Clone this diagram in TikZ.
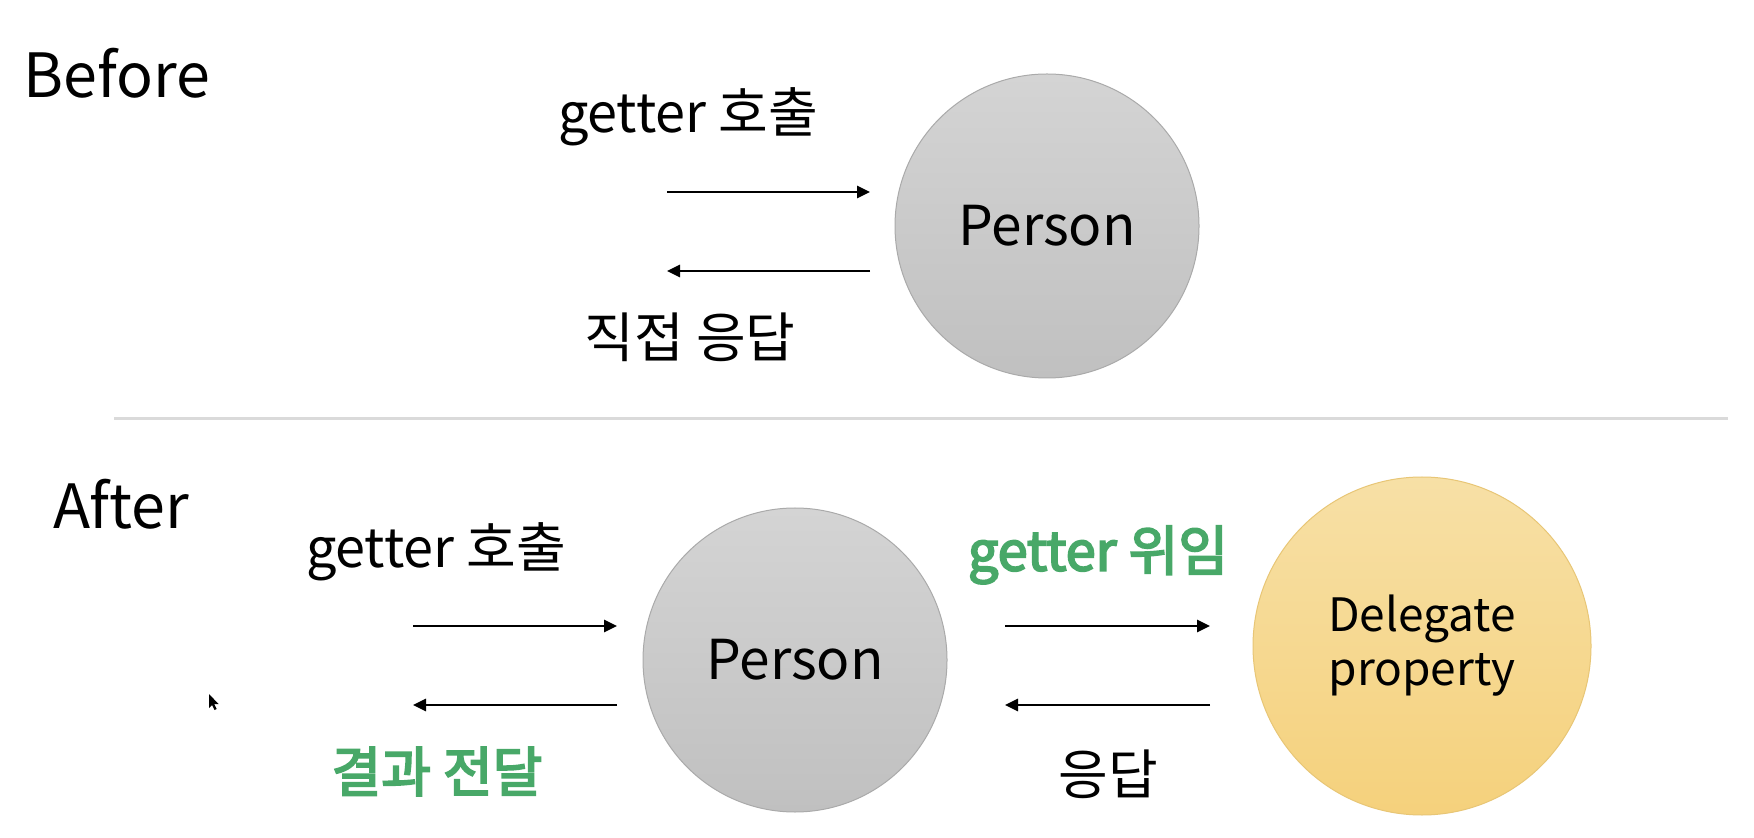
\documentclass[tikz,border=0pt]{standalone}
\usepackage{fontspec}
\setmainfont{Noto Sans CJK KR}
\newfontfamily\greenfont[FakeBold=3.5]{Noto Sans CJK KR}
\usetikzlibrary{arrows.meta}
\definecolor{greentxt}{RGB}{72,168,104}
\definecolor{sepgray}{RGB}{218,218,218}
\definecolor{pgtop}{RGB}{212,212,212}
\definecolor{pgbot}{RGB}{192,192,192}
\definecolor{pgedge}{RGB}{170,170,170}
\definecolor{dgtop}{RGB}{247,224,166}
\definecolor{dgbot}{RGB}{245,209,124}
\definecolor{dgedge}{RGB}{232,198,118}
\tikzset{
  heading/.style={anchor=base west, inner sep=0pt, font=\fontsize{30.5pt}{36pt}\selectfont},
  lbl/.style={inner sep=0pt, font=\fontsize{27pt}{32pt}\selectfont},
  glbl/.style={inner sep=0pt, text=greentxt, font=\greenfont\fontsize{27pt}{32pt}\selectfont},
  personnode/.style={circle, inner sep=0pt, minimum size=152pt, draw=pgedge, line width=0.5pt,
     top color=pgtop, bottom color=pgbot, font=\fontsize{27.5pt}{32pt}\selectfont},
  delegnode/.style={circle, inner sep=0pt, minimum size=169pt, draw=dgedge, line width=0.5pt,
     top color=dgtop, bottom color=dgbot, align=center, font=\fontsize{23pt}{27pt}\selectfont},
  flow/.style={line width=1.4pt, -{Triangle[length=6.5pt,width=6pt]}},
}
\begin{document}
\begin{tikzpicture}[x=0.5pt,y=-0.5pt]
\useasboundingbox (0,0) rectangle (1754,838);
\fill[white] (0,0) rectangle (1754,838);

% Before section
\node[heading] (before) at (23,98) {Before};
\node[personnode] (p1) at (1047,226) {Person};
\node[lbl] (call1) at (688,116.5) {getter 호출};
\node[lbl] (resp1) at (690,337.5) {직접 응답};
\coordinate (a1s) at (667,192);
\coordinate (a1e) at (870,192);
\coordinate (b1s) at (870,271);
\coordinate (b1e) at (667,271);
\draw[flow] (a1s) -- (a1e);
\draw[flow] (b1s) -- (b1e);

% separator
\coordinate (sepL) at (114,419);
\coordinate (sepR) at (1728,419);
\draw[sepgray, line width=1.5pt] (sepL) -- (sepR);

% After section
\node[heading] (after) at (53,529) {After};
\node[personnode] (p2) at (795,660) {Person};
\node[delegnode] (dp) at (1422,646) {Delegate\\property};
\node[lbl] (call2) at (436,552) {getter 호출};
\node[glbl] (pass2) at (437,771.5) {결과 전달};
\node[glbl] (deleg2) at (1098,555) {getter 위임};
\node[lbl] (resp2) at (1108,774) {응답};

\coordinate (a2s) at (413,626);
\coordinate (a2e) at (617,626);
\coordinate (b2s) at (617,705);
\coordinate (b2e) at (413,705);
\draw[flow] (a2s) -- (a2e);
\draw[flow] (b2s) -- (b2e);

\coordinate (a3s) at (1005,626);
\coordinate (a3e) at (1210,626);
\coordinate (b3s) at (1210,705);
\coordinate (b3e) at (1005,705);
\draw[flow] (a3s) -- (a3e);
\draw[flow] (b3s) -- (b3e);

% mouse pointer
\coordinate (cur) at (209,694);
\fill[black] (cur) -- ++(0,14) -- ++(3,-3) -- ++(2.5,5) -- ++(2.2,-1) -- ++(-2.5,-5) -- ++(4.3,0) -- cycle;
\end{tikzpicture}
\end{document}
